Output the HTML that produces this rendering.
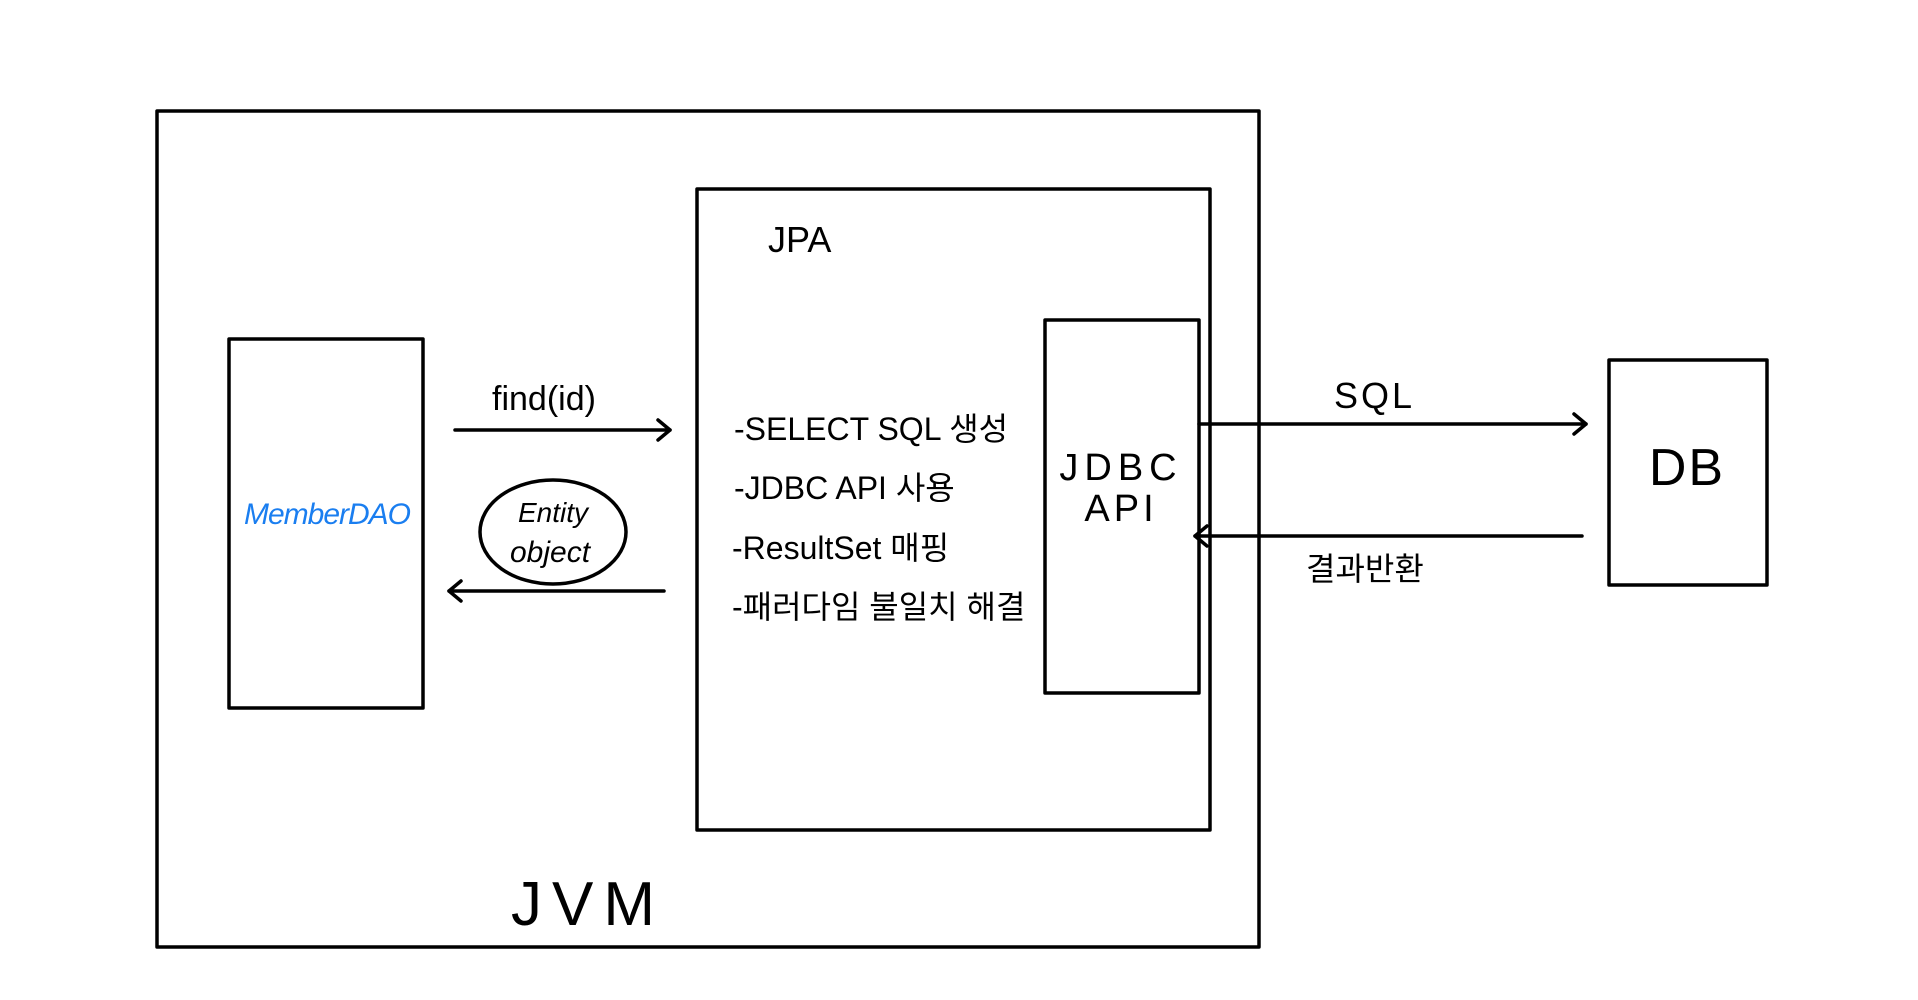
<!DOCTYPE html>
<html><head><meta charset="utf-8"><style>
html,body{margin:0;padding:0;background:#fff;}
svg{display:block;}
text{font-family:"Liberation Sans","Noto Sans CJK KR",sans-serif;fill:#000;}
</style></head><body>
<svg width="1918" height="1000" viewBox="0 0 1918 1000" xmlns="http://www.w3.org/2000/svg">
<g fill="none" stroke="#000" stroke-width="3.5" stroke-linecap="round" stroke-linejoin="round">
<rect x="157" y="111" width="1102" height="836"/>
<rect x="697" y="189" width="513" height="641"/>
<rect x="229" y="339" width="194" height="369"/>
<rect x="1045" y="320" width="154" height="373"/>
<rect x="1609" y="360" width="158" height="225"/>
<ellipse cx="553" cy="532" rx="73" ry="52"/>
<line x1="455" y1="430" x2="670" y2="430"/>
<polyline points="658,420 670,430 658,440"/>
<line x1="664" y1="591" x2="449" y2="591"/>
<polyline points="461,581 449,591 461,601"/>
<line x1="1199" y1="424" x2="1586" y2="424"/>
<polyline points="1574,414 1586,424 1574,434"/>
<line x1="1582" y1="536" x2="1195" y2="536"/>
<polyline points="1207,526 1195,536 1207,546"/>
</g>
<text x="768" y="252" font-size="36">JPA</text>
<text x="492" y="410" font-size="34">find(id)</text>
<text x="1334" y="408" font-size="36" letter-spacing="3">SQL</text>
<text x="1306" y="580" font-size="32">결과반환</text>
<text x="327" y="524" font-size="30" style="fill:#1a7ef0" text-anchor="middle" font-style="italic" letter-spacing="-1">MemberDAO</text>
<text x="553" y="522" font-size="28" text-anchor="middle" font-style="italic">Entity</text>
<text x="550" y="562" font-size="30" text-anchor="middle" font-style="italic">object</text>
<text x="734" y="440" font-size="32">-SELECT SQL 생성</text>
<text x="734" y="499" font-size="32">-JDBC API 사용</text>
<text x="732" y="559" font-size="32">-ResultSet 매핑</text>
<text x="732" y="618" font-size="32">-패러다임 불일치 해결</text>
<text x="1121" y="480" font-size="38" text-anchor="middle" letter-spacing="6">JDBC</text>
<text x="1121" y="521" font-size="38" text-anchor="middle" letter-spacing="4">API</text>
<text x="1687" y="485" font-size="52" text-anchor="middle" letter-spacing="2">DB</text>
<text x="588" y="925" font-size="62" text-anchor="middle" letter-spacing="10">JVM</text>
</svg>
</body></html>
